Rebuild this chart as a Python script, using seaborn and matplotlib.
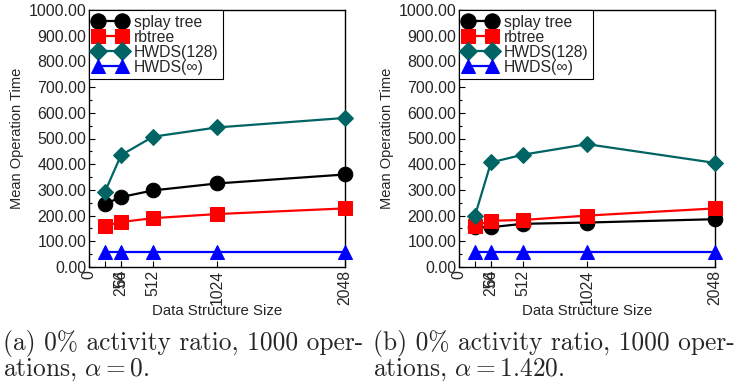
import matplotlib
matplotlib.use("Agg")
import matplotlib.pyplot as plt
import seaborn as sns
import numpy as np
import pandas as pd
from matplotlib.ticker import MultipleLocator

sizes = [128, 256, 512, 1024, 2048]
series = ["splay tree", "rbtree", "HWDS(128)", "HWDS(\u221e)"]

a_splay = [245, 272, 298, 325, 360]
a_rbtree = [160, 175, 190, 206, 228]
a_hw128 = [293, 435, 507, 543, 580]
a_hwinf = [57, 57, 57, 57, 57]

b_splay = [155, 155, 168, 173, 186]
b_rbtree = [160, 180, 183, 200, 228]
b_hw128 = [200, 407, 437, 478, 405]
b_hwinf = [57, 57, 57, 57, 57]

yticks = [0, 100, 200, 300, 400, 500, 600, 700, 800, 900, 1000]
xticks = [0, 128, 256, 512, 1024, 2048]
xticklabels = ["0", "", "256", "512", "1024", "2048"]
overlap_tick = [256]
overlap_label = ["64"]

captions = [
    "(a) 0% activity ratio, 1000 oper-\nations, $\\alpha = 0$.",
    "(b) 0% activity ratio, 1000 oper-\nations, $\\alpha = 1.420$.",
]

colors = {"splay tree": "#000000", "rbtree": "#ff0000",
          "HWDS(128)": "#006464", "HWDS(\u221e)": "#0000ff"}
markers = {"splay tree": "o", "rbtree": "s", "HWDS(128)": "D", "HWDS(\u221e)": "^"}
msize = {"splay tree": 10.5, "rbtree": 9.5, "HWDS(128)": 8.5, "HWDS(\u221e)": 10}

sns.set_theme(style="white")
plt.rcParams["font.family"] = ["Liberation Sans", "DejaVu Sans"]
plt.rcParams["mathtext.fontset"] = "cm"

fig = plt.figure(figsize=(7.35, 3.88), dpi=100)
W, H = 735, 388
lefts = [89, 459]
cap_x = [3, 373]
datasets = [
    [a_splay, a_rbtree, a_hw128, a_hwinf],
    [b_splay, b_rbtree, b_hw128, b_hwinf],
]
for i in range(2):
    ax = fig.add_axes([lefts[i] / W, 1 - 267 / H, 256 / W, 257 / H])
    for name, vals in zip(series, datasets[i]):
        df = pd.DataFrame({"size": sizes, "time": vals})
        sns.lineplot(data=df, x="size", y="time", ax=ax, color=colors[name],
                     marker=markers[name], markersize=msize[name],
                     markeredgecolor=colors[name], linewidth=1.6,
                     label=name, clip_on=False, zorder=3)
    ax.set_xlim(0, 2048)
    ax.set_ylim(0, 1000)
    ax.set_yticks(yticks)
    ax.set_yticklabels([f"{v:.2f}" for v in yticks], fontsize=11.5)
    ax.yaxis.set_minor_locator(MultipleLocator(50))
    ax.xaxis.remove_overlapping_locs = False
    ax.set_xticks(xticks)
    ax.set_xticklabels(xticklabels, rotation=90, fontsize=11.3)
    ax.set_xticks(overlap_tick, minor=True)
    ax.set_xticklabels(overlap_label, minor=True, rotation=90, fontsize=11.3)
    ax.tick_params(axis="both", which="both", direction="in", length=4,
                   width=0.8, color="black", pad=2)
    ax.tick_params(axis="y", which="minor", length=2.5, left=True)
    ax.tick_params(axis="x", which="both", bottom=True)
    ax.tick_params(axis="y", left=True)
    for s in ax.spines.values():
        s.set_color("black")
        s.set_linewidth(1.0)
    ax.set_xlabel("Data Structure Size", fontsize=10.8)
    ax.xaxis.set_label_coords(0.5, -(304 - 267) / 257)
    ax.xaxis.label.set_va("top")
    ax.set_ylabel("Mean Operation Time", fontsize=10.5, labelpad=3)
    leg = ax.legend(loc="upper left", borderaxespad=0, fancybox=False,
                    framealpha=1, edgecolor="black", fontsize=11.3,
                    numpoints=2, handlelength=2.1, handletextpad=0.45,
                    borderpad=0.3, labelspacing=0.0, markerscale=1.05)
    leg.get_frame().set_linewidth(0.8)
    fig.text(cap_x[i] / W, 1 - 330 / H, captions[i],
             family="cmr10", fontsize=18.3, va="top", ha="left",
             linespacing=1.0)

fig.savefig("out.png", dpi=100)
